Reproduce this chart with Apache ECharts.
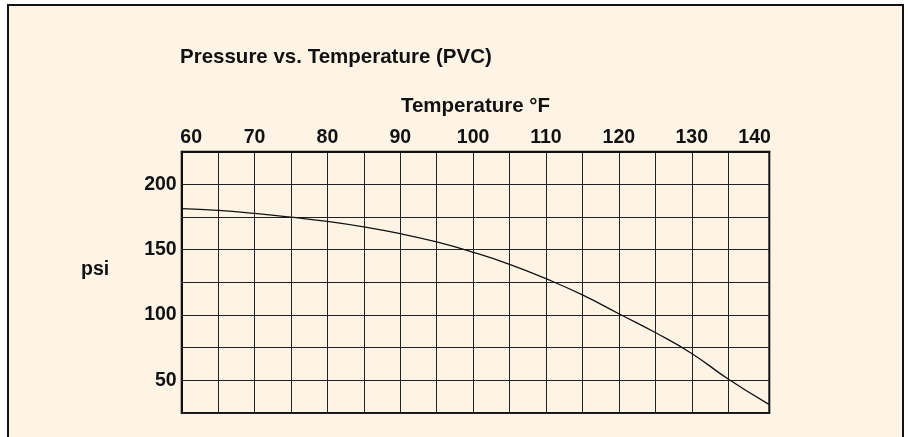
<!DOCTYPE html>
<html>
<head>
<meta charset="utf-8">
<script src="https://cdn.jsdelivr.net/npm/echarts@6/dist/echarts.min.js"></script>
<style>
  html, body { margin: 0; padding: 0; background: #fff; }
  /* cream frame behind the chart */
  .frame {
    position: absolute; left: 7px; top: 4px; width: 893px; height: 460px;
    background: #fef4e6; border: 2px solid #111;
  }
  #chart { position: absolute; left: 0; top: 0; width: 908px; height: 437px; }
</style>
</head>
<body>
<div class="frame"></div>
<div id="chart"></div>
<script>
// data
const temps = [60, 65, 70, 75, 80, 85, 90, 95, 100, 105, 110, 115, 120, 125, 130, 135, 140.6];
const pressure = [181.4, 180.1, 177.8, 174.9, 171.6, 167.4, 162.3, 155.9, 148.0, 138.8, 127.8, 115.4, 101.0, 86.6, 70.6, 51.0, 31.6];
const xTicks = [60, 70, 80, 90, 100, 110, 120, 130, 140];
const yTicks = [50, 100, 150, 200];

const font = "'Liberation Sans', Arial, Helvetica, sans-serif";
const ink = "#111";
const chart = echarts.init(document.getElementById("chart"));

chart.setOption({
  animation: false,
  backgroundColor: "transparent",
  textStyle: { fontFamily: font },
  title: [
    {
      text: "Pressure vs. Temperature (PVC)",
      left: 180, top: 47, padding: 0,
      textStyle: { fontSize: 20.5, fontWeight: "bold", color: ink, fontFamily: font }
    },
    {
      text: "psi",
      left: 81, top: 260, padding: 0,
      textStyle: { fontSize: 19.5, fontWeight: "bold", color: ink, fontFamily: font }
    }
  ],
  grid: [
    // main plot
    {
      left: 181.7, right: 138.7, top: 151.7, bottom: 24,
      show: true, borderWidth: 2, borderColor: ink, backgroundColor: "transparent"
    },
    // vertical rulings stop at 135, the last column runs to the border
    { left: 181.7, right: 179.8, top: 151.7, bottom: 24 }
  ],
  xAxis: [
    {
      type: "value",
      position: "top",
      min: 60, max: 140.65, interval: 5,
      name: "Temperature °F",
      nameLocation: "middle",
      nameGap: 35,
      nameTextStyle: { fontSize: 20.5, fontWeight: "bold", color: ink, fontFamily: font },
      axisLine: { show: true, lineStyle: { color: ink, width: 2 } },
      axisTick: { show: false },
      splitLine: { show: false },
      axisLabel: {
        margin: 4,
        fontSize: 19.5, fontWeight: "bold", color: ink, fontFamily: font,
        formatter: function (v) {
          if (!xTicks.includes(v)) return "";
          if (v === xTicks[0]) return "{first|" + v + "}";
          if (v === xTicks[xTicks.length - 1]) return "{last|" + v + "}";
          return String(v);
        },
        rich: {
          first: { fontSize: 19.5, fontWeight: "bold", color: ink, fontFamily: font, padding: [0, 0, 0, 19] },
          last: { fontSize: 19.5, fontWeight: "bold", color: ink, fontFamily: font, padding: [0, 20, 0, 0] }
        }
      }
    },
    {
      type: "value",
      gridIndex: 1,
      position: "top",
      min: 60, max: 135, interval: 5,
      axisLine: { show: false },
      axisTick: { show: false },
      axisLabel: { show: false },
      splitLine: { show: true, lineStyle: { color: "#222", width: 1 } }
    }
  ],
  yAxis: [
    {
      type: "value",
      min: 25, max: 225, interval: 25,
      axisLine: { show: true, lineStyle: { color: ink, width: 2 } },
      axisTick: { show: false },
      splitLine: { show: true, lineStyle: { color: "#222", width: 1 } },
      axisLabel: {
        margin: 5,
        fontSize: 19.5, fontWeight: "bold", color: ink, fontFamily: font,
        formatter: function (v) { return yTicks.includes(v) ? String(v) : ""; }
      }
    },
    {
      type: "value",
      gridIndex: 1,
      min: 25, max: 225,
      axisLine: { show: false },
      axisTick: { show: false },
      axisLabel: { show: false },
      splitLine: { show: false }
    }
  ],
  series: [
    {
      type: "line",
      data: temps.map((t, i) => [t, pressure[i]]),
      smooth: 0.5,
      showSymbol: false,
      lineStyle: { color: ink, width: 1.3 }
    }
  ]
});
</script>
</body>
</html>
